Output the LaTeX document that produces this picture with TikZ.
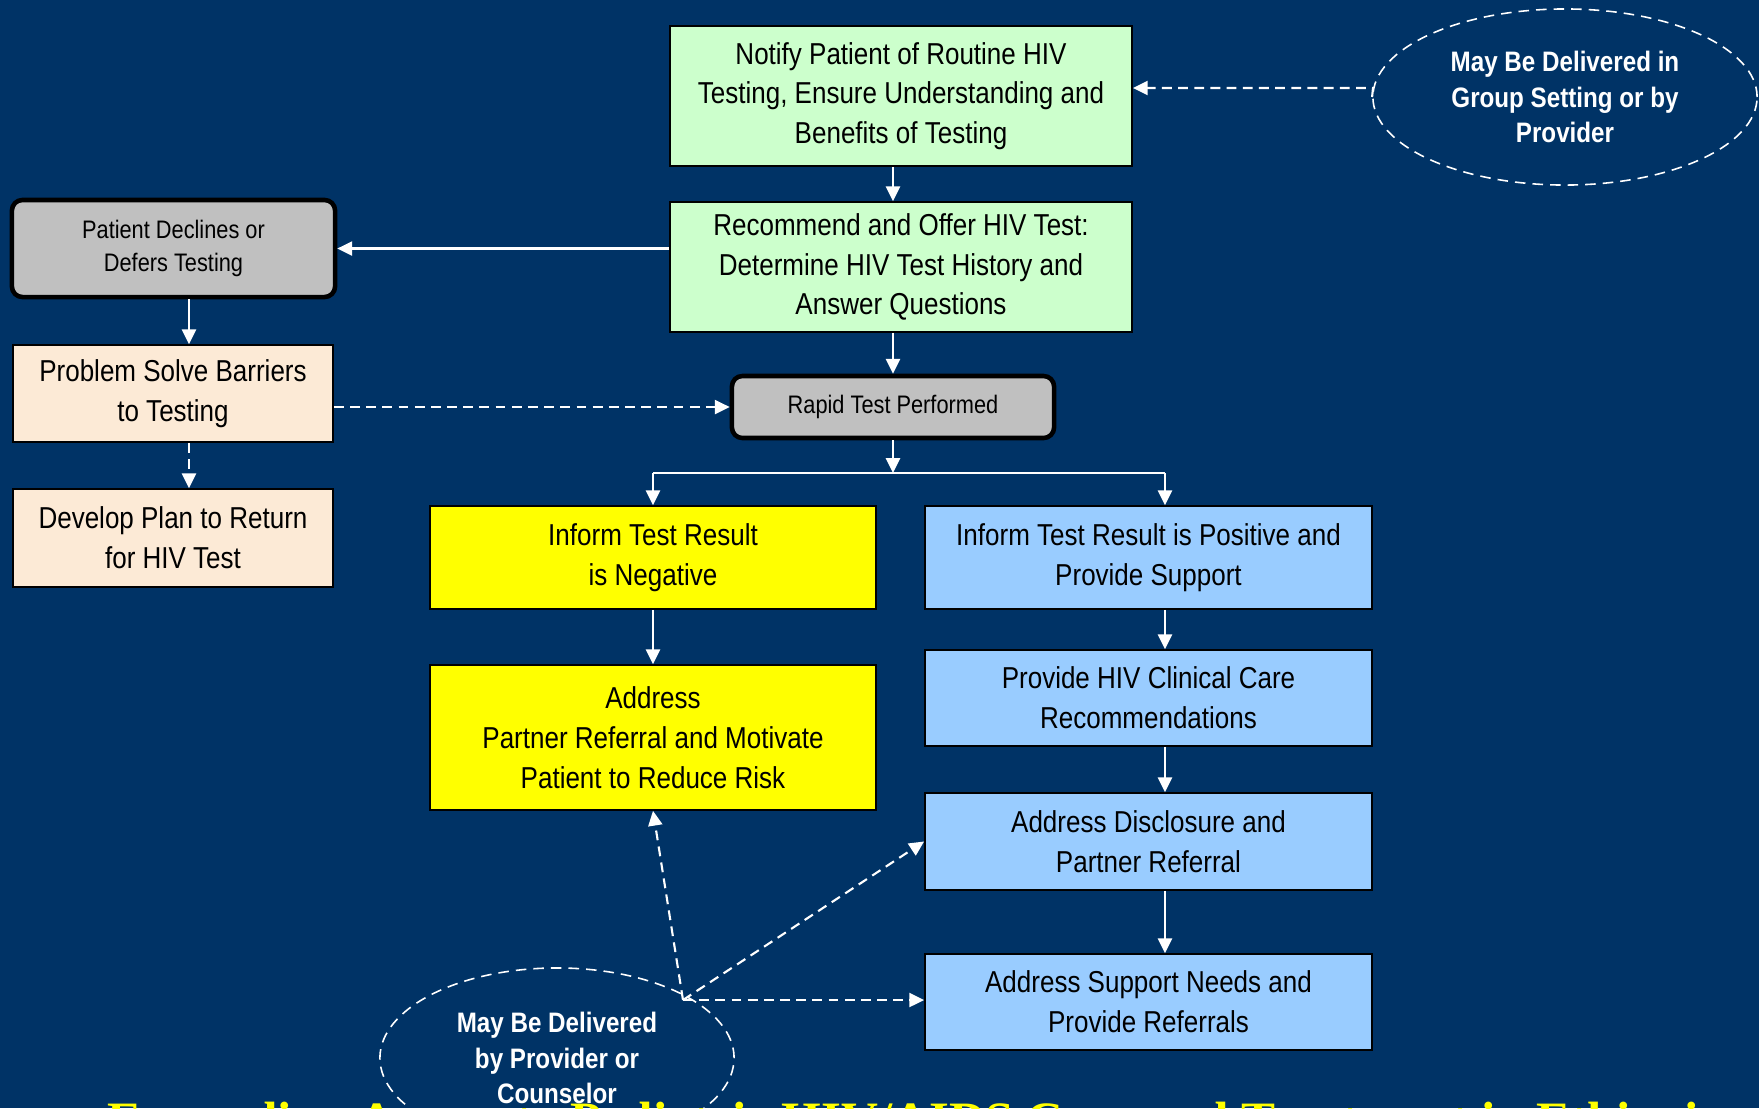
\documentclass[tikz,border=0pt]{standalone}
\usepackage{fontspec}
\setmainfont[FakeStretch=0.86]{Liberation Sans}
\newfontfamily\headfont{Liberation Serif}
\usepackage{tikz}
\definecolor{SlideNavy}{HTML}{003366}
\definecolor{MintGreen}{HTML}{CCFFCC}
\definecolor{SkyBlue}{HTML}{99CCFF}
\definecolor{BrightYellow}{HTML}{FFFF00}
\definecolor{SilverGray}{HTML}{C0C0C0}
\definecolor{PeachDot}{HTML}{FCEAD6}
\usetikzlibrary{shapes.geometric, arrows.meta, positioning, calc}
\newcommand{\boxfont}{\fontsize{8.6}{11.3}\selectfont}
\newcommand{\smallboxfont}{\fontsize{7.2}{9.6}\selectfont}
\newcommand{\ellfont}{\fontsize{8}{10}\selectfont\bfseries}
\tikzset{
    flowbox/.style={draw=black, line width=0.45pt, align=center, inner sep=0pt, font=\boxfont},
    roundbox/.style={draw=black, line width=1.3pt, rounded corners=3pt, fill=SilverGray,
        align=center, inner sep=0pt},
    noteell/.style={ellipse, draw=white, line width=0.45pt, dash pattern=on 3pt off 2pt,
        text=white, align=center, inner sep=0pt, font=\ellfont},
    flow/.style={draw=white, line width=0.6pt, -{Triangle[width=4pt,length=4.2pt]}},
    dashflow/.style={flow, dash pattern=on 2.8pt off 1.8pt}
}

\begin{document}
\begin{tikzpicture}[x=0.01cm, y=-0.01cm]
    % Background
    \fill[SlideNavy] (0,0) rectangle (1759,1108);
    \useasboundingbox (0,0) rectangle (1759,1108);
    \clip (0,0) rectangle (1759,1108);

    % Top of the flow
    \node[flowbox, fill=MintGreen, minimum width=4.62cm, minimum height=1.40cm] (notify) at (901,96)
        {Notify Patient of Routine HIV\\Testing, Ensure Understanding and\\Benefits of Testing};
    \node[flowbox, fill=MintGreen, minimum width=4.62cm, minimum height=1.30cm] (recommend) at (901,267)
        {Recommend and Offer HIV Test:\\Determine HIV Test History and\\Answer Questions};
    \node[noteell, minimum width=3.84cm, minimum height=1.76cm] (groupnote) at (1565,97)
        {May Be Delivered in\\Group Setting or by\\Provider};
    \node[roundbox, font=\smallboxfont, minimum width=3.23cm, minimum height=0.97cm] (declines) at (173.5,248.5)
        {Patient Declines or\\Defers Testing};
    \node[roundbox, font=\smallboxfont, minimum width=3.22cm, minimum height=0.62cm] (rapid) at (893,407)
        {Rapid Test Performed};

    % Declined branch
    \node[flowbox, fill=PeachDot, minimum width=3.20cm, minimum height=0.97cm] (barriers) at (173,393.5)
        {Problem Solve Barriers\\to Testing};
    \node[flowbox, fill=PeachDot, minimum width=3.20cm, minimum height=0.98cm] (returnplan) at (173,538)
        {Develop Plan to Return\\for HIV Test};

    % Negative branch
    \node[flowbox, fill=BrightYellow, minimum width=4.46cm, minimum height=1.03cm] (negative) at (653,557.5)
        {Inform Test Result\\is Negative};
    \node[flowbox, fill=BrightYellow, minimum width=4.46cm, minimum height=1.45cm] (riskaddr) at (653,737.5)
        {Address\\Partner Referral and Motivate\\Patient to Reduce Risk};

    % Positive branch
    \node[flowbox, fill=SkyBlue, minimum width=4.47cm, minimum height=1.03cm] (positive) at (1148.5,557.5)
        {Inform Test Result is Positive and\\Provide Support};
    \node[flowbox, fill=SkyBlue, minimum width=4.47cm, minimum height=0.96cm] (clinical) at (1148.5,698)
        {Provide HIV Clinical Care\\Recommendations};
    \node[flowbox, fill=SkyBlue, minimum width=4.47cm, minimum height=0.97cm] (disclose) at (1148.5,841.5)
        {Address Disclosure and\\Partner Referral};
    \node[flowbox, fill=SkyBlue, minimum width=4.47cm, minimum height=0.96cm] (support) at (1148.5,1002)
        {Address Support Needs and\\Provide Referrals};

    \node[noteell, minimum width=3.54cm, minimum height=1.80cm] (counsnote) at (557,1058)
        {May Be Delivered\\by Provider or\\Counselor};

    % Helper points
    \coordinate (groupin) at (1373,88);
    \coordinate (leftx) at (189,0);
    \coordinate (split) at (893,473);
    \coordinate (posx) at (1165,0);
    \coordinate (hub) at (683,1000);

    % Connectors
    \draw[dashflow] (groupnote.west) -- (groupin) -- (notify.east |- groupin);
    \draw[flow] (notify.south -| rapid) -- (recommend.north -| rapid);
    \draw[flow] (recommend.west |- declines.east) -- (declines.east);
    \draw[flow] (recommend.south -| rapid) -- (rapid.north);
    \draw[flow] (declines.south -| leftx) -- (barriers.north -| leftx);
    \draw[dashflow] (barriers.south -| leftx) -- (returnplan.north -| leftx);
    \draw[dashflow] (barriers.east |- rapid.west) -- (rapid.west);
    \draw[flow] (rapid.south) -- (split);
    \draw[white, line width=0.6pt] (split -| negative) -- (split -| posx);
    \draw[flow] (split -| negative) -- (negative.north);
    \draw[flow] (split -| posx) -- (positive.north -| posx);
    \draw[flow] (negative.south) -- (riskaddr.north);
    \draw[flow] (positive.south -| posx) -- (clinical.north -| posx);
    \draw[flow] (clinical.south -| posx) -- (disclose.north -| posx);
    \draw[flow] (disclose.south -| posx) -- (support.north -| posx);
    \draw[dashflow] (hub) -- (riskaddr.south);
    \draw[dashflow] (hub) -- (disclose.west);
    \draw[dashflow] (hub) -- (support.west |- hub);

    % Slide title, cut off at the bottom edge
    \node[anchor=base west, inner sep=0pt, text=BrightYellow, font=\headfont\bfseries\fontsize{14.5}{16}\selectfont] (slidetitle) at (107,1137)
        {Expanding Access to Pediatric HIV/AIDS Care and Treatment in Ethiopia};
\end{tikzpicture}
\end{document}
